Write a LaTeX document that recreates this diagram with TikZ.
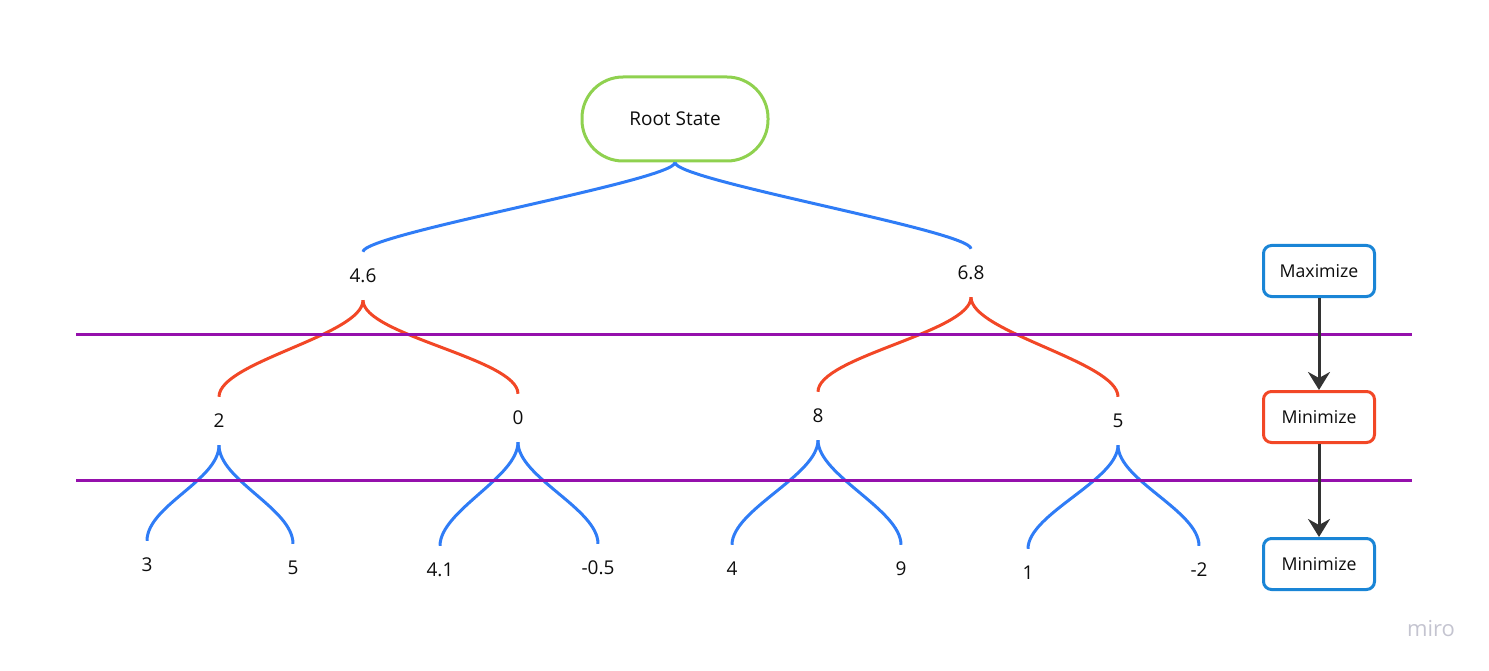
\documentclass[tikz,border=0pt]{standalone}
\usepackage{fontspec}
\setmainfont{Open Sans}
\usepackage{tikz}
\usetikzlibrary{arrows.meta, positioning, calc}
\definecolor{LinkBlue}{RGB}{47, 124, 246}
\definecolor{BoxBlue}{RGB}{26, 133, 214}
\definecolor{MinRed}{RGB}{242, 71, 38}
\definecolor{RootGreen}{RGB}{143, 209, 79}
\definecolor{LevelPurple}{RGB}{149, 16, 172}
\definecolor{ArrowGray}{RGB}{51, 51, 51}
\definecolor{LogoGray}{RGB}{196, 196, 208}

\begin{document}
\begin{tikzpicture}[x=1pt, y=-1pt,
        every node/.style={font=\fontsize{19}{22}\selectfont, text=black!95},
        val/.style={inner sep=0pt, minimum height=48pt},
        levelbox/.style={draw, line width=3pt, rounded corners=8pt, minimum width=111pt, minimum height=51pt, fill=white, font=\fontsize{17.7}{21}\selectfont},
        bluelink/.style={LinkBlue, line width=3pt},
        redlink/.style={MinRed, line width=3pt},
        steplink/.style={ArrowGray, line width=3pt, -{Stealth[length=18pt, width=22pt, inset=6pt]}}]
        \useasboundingbox (0,0) rectangle (1489,671);

        % Root
        \node[draw=RootGreen, line width=3pt, rounded corners=41pt, minimum width=186pt, minimum height=84pt] (root) at (675,119) {Root State};

        % Values under the root
        \node[val] (v46) at (363,276) {4.6};
        \node[val] (v68) at (971,273) {6.8};

        % Values of the middle level
        \node[val] (v2) at (219,421) {2};
        \node[val] (v0) at (518,418) {0};
        \node[val] (v8) at (818,416) {8};
        \node[val] (v5) at (1118,421) {5};

        % Leaves
        \node[val] (l3) at (147,565) {3};
        \node[val] (l5) at (293,568) {5};
        \node[val] (l41) at (440,570) {4.1};
        \node[val] (lm05) at (598,568) {-0.5};
        \node[val] (l4) at (732,569) {4};
        \node[val] (l9) at (901,569) {9};
        \node[val] (l1) at (1028,573) {1};
        \node[val] (lm2) at (1199,570) {-2};

        % Links from the root
        \draw[bluelink] (root.south) .. controls +(0,18) and +(0,-18) .. (v46.north);
        \draw[bluelink] (root.south) .. controls +(0,18) and +(0,-18) .. (v68.north);

        % Links to the middle level
        \draw[redlink] (v46.south) .. controls +(0,35) and +(0,-35) .. (v2.north);
        \draw[redlink] (v46.south) .. controls +(0,35) and +(0,-35) .. (v0.north);
        \draw[redlink] (v68.south) .. controls +(0,35) and +(0,-35) .. (v8.north);
        \draw[redlink] (v68.south) .. controls +(0,35) and +(0,-35) .. (v5.north);

        % Links to the leaves
        \draw[bluelink] (v2.south) .. controls +(0,35) and +(0,-35) .. (l3.north);
        \draw[bluelink] (v2.south) .. controls +(0,35) and +(0,-35) .. (l5.north);
        \draw[bluelink] (v0.south) .. controls +(0,35) and +(0,-35) .. (l41.north);
        \draw[bluelink] (v0.south) .. controls +(0,35) and +(0,-35) .. (lm05.north);
        \draw[bluelink] (v8.south) .. controls +(0,35) and +(0,-35) .. (l4.north);
        \draw[bluelink] (v8.south) .. controls +(0,35) and +(0,-35) .. (l9.north);
        \draw[bluelink] (v5.south) .. controls +(0,35) and +(0,-35) .. (l1.north);
        \draw[bluelink] (v5.south) .. controls +(0,35) and +(0,-35) .. (lm2.north);

        % Level separators
        \draw[LevelPurple, line width=3pt] (76,334) -- (1412,334);
        \draw[LevelPurple, line width=3pt] (76,480) -- (1412,480);

        % Legend boxes
        \node[levelbox, draw=BoxBlue] (maxi) at (1319,271) {Maximize};
        \node[levelbox, draw=MinRed] (minia) at (1319,417) {Minimize};
        \node[levelbox, draw=BoxBlue] (minib) at (1319,564) {Minimize};

        % Arrows between the boxes
        \draw[steplink] (maxi.south) -- (minia.north);
        \draw[steplink] (minia.south) -- (minib.north);

        % Logo
        \node[text=LogoGray, font=\fontsize{22}{24}\selectfont] (logo) at (1431,629) {miro};
    \end{tikzpicture}
\end{document}
